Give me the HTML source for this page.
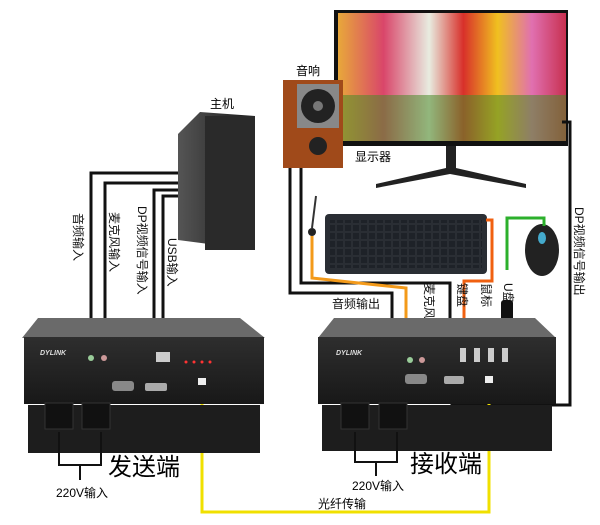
<!DOCTYPE html>
<html><head><meta charset="utf-8"><style>
body{margin:0;background:#fff;}
svg{display:block;font-family:"Liberation Sans","Noto Sans CJK SC",sans-serif;}
</style></head><body>
<svg width="600" height="525" viewBox="0 0 600 525">
<defs>
<linearGradient id="scr" x1="0" y1="0" x2="1" y2="0">
<stop offset="0" stop-color="#e8a83a"/><stop offset="0.2" stop-color="#d9466a"/><stop offset="0.4" stop-color="#e8ece0"/><stop offset="0.55" stop-color="#d8302a"/><stop offset="0.7" stop-color="#f0c020"/><stop offset="0.85" stop-color="#e070b0"/><stop offset="1" stop-color="#c83050"/></linearGradient>
<linearGradient id="box" x1="0" y1="0" x2="0" y2="1"><stop offset="0" stop-color="#2e2e2e"/><stop offset="1" stop-color="#181818"/></linearGradient>
<linearGradient id="pc" x1="0" y1="0" x2="1" y2="0"><stop offset="0" stop-color="#555"/><stop offset="1" stop-color="#1a1a1a"/></linearGradient>
<pattern id="keys" width="8" height="8" patternUnits="userSpaceOnUse"><rect x="1" y="1" width="6" height="6" fill="#1e2228"/></pattern>
</defs>
<!-- monitor -->
<rect x="334" y="10" width="234" height="136" fill="#111"/>
<rect x="338" y="13" width="228" height="128" fill="url(#scr)"/>
<rect x="338" y="95" width="228" height="46" fill="#4a8a2a" opacity="0.55"/>
<rect x="446" y="146" width="10" height="24" fill="#222"/>
<polygon points="376,184 446,168 456,168 526,184 526,188 450,174 376,188" fill="#222"/>
<text x="355" y="161" font-size="12">显示器</text>
<!-- speaker -->
<rect x="283" y="80" width="60" height="88" fill="#a04a1a"/>
<rect x="297" y="84" width="42" height="44" fill="#888"/>
<circle cx="318" cy="106" r="17" fill="#222"/><circle cx="318" cy="106" r="5" fill="#777"/>
<circle cx="318" cy="146" r="9" fill="#222"/>
<text x="296" y="75" font-size="12">音响</text>
<!-- PC -->
<polygon points="178,134 200,112 255,116 255,250 178,240" fill="url(#pc)"/>
<rect x="205" y="116" width="50" height="134" fill="#2a2a2a"/>
<text x="210" y="108" font-size="12">主机</text>
<!-- keyboard -->
<rect x="325" y="214" width="162" height="60" rx="4" fill="#2a2e34"/>
<rect x="330" y="220" width="152" height="48" fill="url(#keys)"/>
<!-- mouse -->
<ellipse cx="542" cy="250" rx="17" ry="26" fill="#222"/>
<ellipse cx="542" cy="238" rx="4" ry="6" fill="#4ac"/>
<!-- mic -->
<line x1="312" y1="228" x2="316" y2="196" stroke="#333" stroke-width="2"/><circle cx="312" cy="232" r="4" fill="#222"/>
<g fill="none" stroke="#111" stroke-width="3">
<polyline points="178,173 91,173 91,342"/>
<polyline points="178,183 105,183 105,342"/>
<polyline points="178,190 154,190 154,345"/>
<polyline points="178,196 163,196 163,345"/>
<polyline points="290,168 290,293 392,293 392,340"/>
<polyline points="301,168 301,283 450,283 450,345"/>
<polyline points="562,122 570,122 570,405 452,405 452,390"/>
</g>
<g fill="none" stroke-width="3">
<polyline points="312,236 312,278 406,288 406,340" stroke="#f39a1a"/>
<polyline points="486,220 492,220 492,281 464,281 464,345" stroke="#f06010"/>
<polyline points="544,226 544,218 507,218 507,270" stroke="#2cb02c"/>
<polyline points="202,378 202,512 489,512 489,380" stroke="#f0e000"/>
</g>
<rect x="501" y="300" width="12" height="35" rx="3" fill="#111"/>
<g font-size="12" fill="#111">
<text transform="translate(74,213) rotate(90)">音频输入</text>
<text transform="translate(110,212) rotate(90)">麦克风输入</text>
<text transform="translate(138,206) rotate(90)">DP视频信号输入</text>
<text transform="translate(168,238) rotate(90)">USB输入</text>
<text transform="translate(425,283) rotate(90)">麦克风输出</text>
<text transform="translate(458,283) rotate(90)">键盘</text>
<text transform="translate(482,283) rotate(90)">鼠标</text>
<text transform="translate(504,283) rotate(90)">U盘</text>
<text transform="translate(575,207) rotate(90)">DP视频信号输出</text>
<text x="332" y="308">音频输出</text>
</g>
<!-- transmitter box -->
<polygon points="38,318 240,318 265,338 22,338" fill="#6a6a6a"/>
<rect x="24" y="337" width="240" height="67" fill="url(#box)"/>
<rect x="28" y="405" width="232" height="48" fill="#1d1d1d"/>
<text x="40" y="355" font-size="7" fill="#ddd" font-style="italic" font-weight="bold">DYLINK</text>
<circle cx="91" cy="358" r="3" fill="#9c9"/><circle cx="104" cy="358" r="3" fill="#c99"/>
<rect x="156" y="352" width="14" height="10" fill="#ccc"/>
<rect x="145" y="383" width="22" height="8" rx="2" fill="#aaa"/>
<rect x="112" y="381" width="22" height="10" rx="3" fill="#888"/>
<circle cx="186" cy="362" r="1.5" fill="#f33"/><circle cx="194" cy="362" r="1.5" fill="#f33"/><circle cx="202" cy="362" r="1.5" fill="#f33"/><circle cx="210" cy="362" r="1.5" fill="#f33"/>
<rect x="198" y="378" width="8" height="7" fill="#eee"/>
<rect x="45" y="403" width="28" height="26" fill="#111" stroke="#333"/><rect x="82" y="403" width="28" height="26" fill="#111" stroke="#333"/>
<!-- receiver box -->
<polygon points="334,318 535,318 556,338 318,338" fill="#6a6a6a"/>
<rect x="318" y="337" width="238" height="67" fill="url(#box)"/>
<rect x="322" y="405" width="230" height="46" fill="#1d1d1d"/>
<text x="336" y="355" font-size="7" fill="#ddd" font-style="italic" font-weight="bold">DYLINK</text>
<circle cx="410" cy="360" r="3" fill="#9c9"/><circle cx="422" cy="360" r="3" fill="#c99"/>
<rect x="460" y="348" width="6" height="14" fill="#ccc"/><rect x="474" y="348" width="6" height="14" fill="#ccc"/><rect x="488" y="348" width="6" height="14" fill="#ccc"/><rect x="502" y="348" width="6" height="14" fill="#ccc"/>
<rect x="444" y="376" width="20" height="8" rx="2" fill="#aaa"/>
<rect x="405" y="374" width="22" height="10" rx="3" fill="#888"/>
<rect x="485" y="376" width="8" height="7" fill="#eee"/>
<rect x="341" y="403" width="28" height="26" fill="#111" stroke="#333"/><rect x="379" y="403" width="28" height="26" fill="#111" stroke="#333"/>
<g fill="none" stroke="#111" stroke-width="2">
<polyline points="59,432 59,465 101,465 101,432"/><line x1="80" y1="465" x2="80" y2="480"/>
<polyline points="355,432 355,462 397,462 397,432"/><line x1="376" y1="462" x2="376" y2="476"/>
</g>
<text x="108" y="475" font-size="24">发送端</text>
<text x="410" y="472" font-size="24">接收端</text>
<text x="56" y="497" font-size="12">220V输入</text>
<text x="352" y="490" font-size="12">220V输入</text>
<text x="318" y="508" font-size="12">光纤传输</text>
</svg>
</body></html>
